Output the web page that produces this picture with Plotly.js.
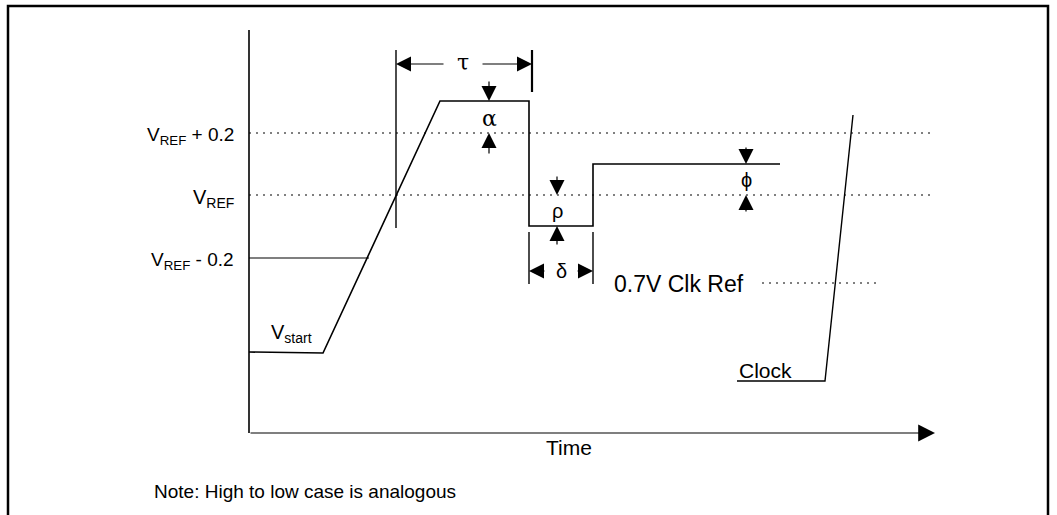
<!DOCTYPE html>
<html><head><meta charset="utf-8">
<script src="https://cdn.plot.ly/plotly-3.0.1.min.js"></script>
<style>html,body{margin:0;padding:0;background:#fff}#chart{width:1057px;height:515px}</style>
</head><body><div id="chart"></div>
<script>
// Diagram values (drawing units: x = time, y = level, y axis inverted)
const signalX = [249, 323, 440, 529, 529, 593, 593, 780];
const signalY = [352, 353, 101, 101, 226, 226, 164, 164];
const clockX = [737, 825, 853];
const clockY = [381, 381, 115];
const vrefMinusX = [249, 369];
const vrefMinusY = [258, 258];
const refLevels = [133, 195];          // VREF+0.2, VREF
const refStartX = 249, refEndX = 935;
const clkRefX = [762, 876];
const clkRefY = [283, 283];
const axisTopY = 30, axisBottomY = 433, axisLeftX = 249, axisEndX = 935;
const tauX = [396, 532], tauY = 64;
const alphaX = 489, rhoX = 557, phiX = 746;
const deltaX = [529, 593], deltaY = 271;
const levelLabels = ["V<sub>REF</sub> + 0.2", "V<sub>REF</sub>", "V<sub>REF</sub> - 0.2"];
const levelLabelY = [133, 195, 258];

const fam = "Liberation Sans, Arial, sans-serif";
const f = (s) => ({family: fam, size: s, color: "#000"});
const greek = {family: "DejaVu Serif, serif", size: 22, color: "#000"};
const line = (x, y, extra) => Object.assign({type: "scatter", mode: "lines", x: x, y: y,
  line: {color: "#000", width: 1.4}, hoverinfo: "skip", showlegend: false}, extra || {});
const dotted = {color: "#000", width: 1, dash: "2px,5px"};

const traces = [
  line([axisLeftX, axisLeftX], [axisTopY, axisBottomY], {line: {color: "#000", width: 1.6}}),
  line(signalX, signalY, {line: {color: "#000", width: 1.6}}),
  line(clockX, clockY),
  line(vrefMinusX, vrefMinusY, {line: {color: "#000", width: 1.2}}),
  line([refStartX, refEndX], [refLevels[0], refLevels[0]], {line: dotted}),
  line([refStartX, refEndX], [refLevels[1], refLevels[1]], {line: dotted}),
  line(clkRefX, clkRefY, {line: dotted}),
  line([tauX[0], tauX[0]], [50, 228]),
  line([tauX[1], tauX[1]], [50, 92], {line: {color: "#000", width: 2.2}}),
  line([deltaX[0], deltaX[0]], [232, 284]),
  line([deltaX[1], deltaX[1]], [232, 284])
];

const arrow = (hx, hy, tx, ty, sz) => ({x: hx, y: hy, ax: tx, ay: ty, xref: "x", yref: "y",
  axref: "x", ayref: "y", showarrow: true, arrowhead: 2, arrowsize: sz || 2.5, arrowwidth: 1.2,
  arrowcolor: "#000", text: ""});
const txt = (t, x, y, xa, fo) => ({x: x, y: y, xref: "x", yref: "y", text: t, showarrow: false,
  xanchor: xa || "center", yanchor: "middle", font: fo});

const annotations = [
  arrow(axisEndX, axisBottomY, axisLeftX, axisBottomY, 2.8),
  arrow(tauX[0], tauY, 445, tauY),
  arrow(tauX[1], tauY, 481, tauY),
  arrow(alphaX, 101, alphaX, 80),
  arrow(alphaX, 133, alphaX, 155),
  arrow(rhoX, 195, rhoX, 175),
  arrow(rhoX, 226, rhoX, 246),
  arrow(deltaX[0], deltaY, 546, deltaY),
  arrow(deltaX[1], deltaY, 576, deltaY),
  arrow(phiX, 164, phiX, 146),
  arrow(phiX, 195, phiX, 213),
  txt("τ", 463, 62, "center", greek),
  txt("α", alphaX, 118, "center", greek),
  txt("ρ", rhoX, 211, "center", f(20)),
  txt("δ", 561, 271, "center", f(20)),
  txt("ϕ", phiX, 180, "center", f(20)),
  txt(levelLabels[0], 236, levelLabelY[0] + 3, "right", f(19)),
  txt(levelLabels[1], 236, levelLabelY[1] + 3, "right", f(20)),
  txt(levelLabels[2], 236, levelLabelY[2] + 3, "right", f(19)),
  txt("V<sub>start</sub>", 269, 333, "left", f(20)),
  txt("0.7V Clk Ref", 612, 284, "left", f(23)),
  txt("Clock", 737, 370, "left", f(21)),
  txt("Time", 569, 447, "center", f(21)),
  txt("Note: High to low case is analogous", 152, 491, "left", f(19))
];

const layout = {
  width: 1057, height: 515, margin: {l: 0, r: 0, t: 0, b: 0},
  paper_bgcolor: "#fff", plot_bgcolor: "#fff",
  xaxis: {range: [0, 1057], visible: false, fixedrange: true},
  yaxis: {range: [515, 0], visible: false, fixedrange: true},
  showlegend: false,
  shapes: [{type: "rect", xref: "x", yref: "y", x0: 8, y0: 6, x1: 1048, y1: 520,
    line: {color: "#000", width: 2.5}}],
  annotations: annotations
};
Plotly.newPlot("chart", traces, layout, {displayModeBar: false, staticPlot: true});
</script></body></html>
